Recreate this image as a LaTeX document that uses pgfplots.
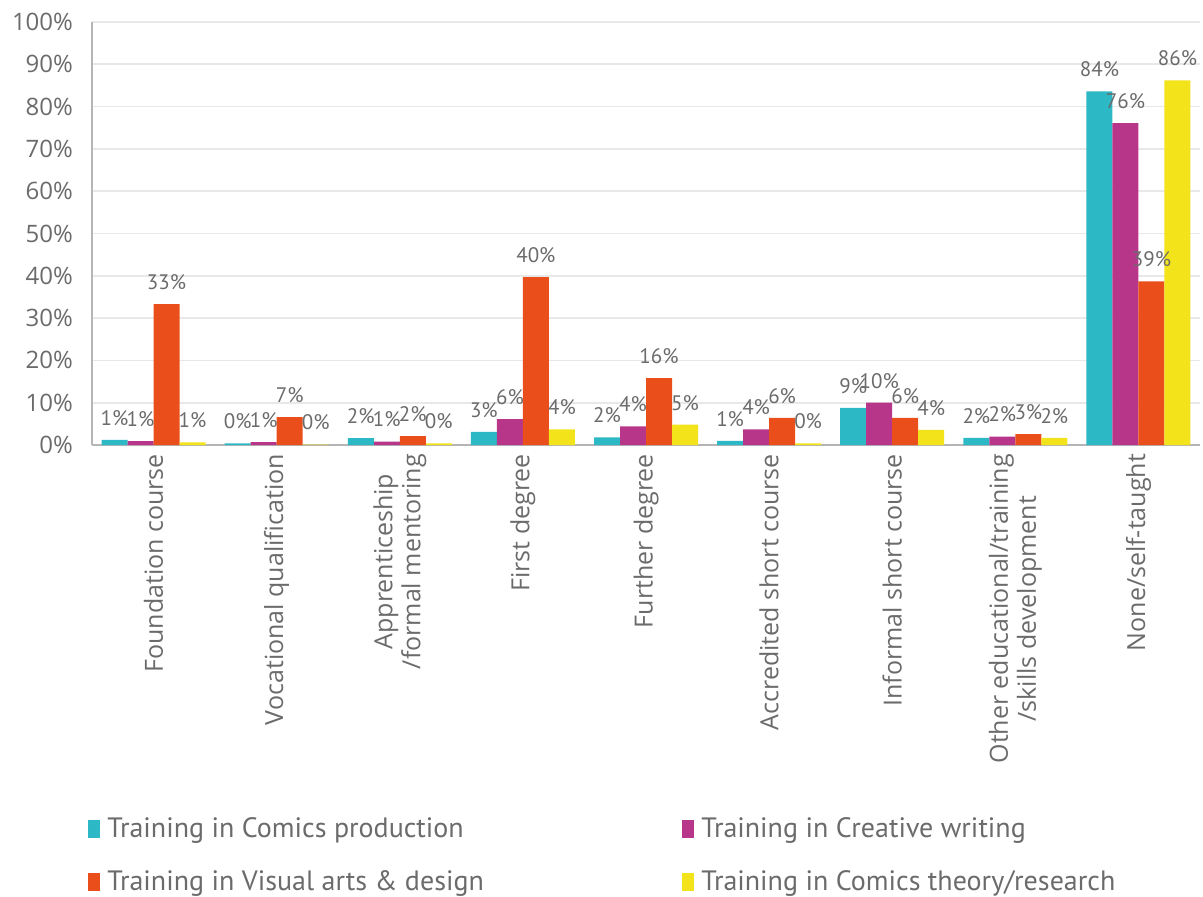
\documentclass[border=0pt]{standalone}
\usepackage{pgfplots}
\pgfplotsset{compat=1.18}
\usepackage{pgfplotstable}
\usepackage{fontspec}
\setmainfont{PT Sans}
\newfontfamily\axisfont{Open Sans}

\definecolor{cComics}{HTML}{2CB8C5}
\definecolor{cWriting}{HTML}{B8368A}
\definecolor{cVisual}{HTML}{E94E1B}
\definecolor{cTheory}{HTML}{F2E31A}
\definecolor{txt}{HTML}{6B6B6B}
\definecolor{gridc}{HTML}{E8E8E8}
\definecolor{axc}{HTML}{B5B5B5}

% values in percent
\pgfplotstableread{
x comics writing visual theory
0 1.2  0.9  33.3 0.6
1 0.4  0.7  6.6  0.1
2 1.6  0.8  2.1  0.4
3 3.1  6.1  39.7 3.7
4 1.8  4.4  15.8 4.8
5 1.0  3.7  6.4  0.4
6 8.8  10.0 6.4  3.6
7 1.7  2.0  2.6  1.7
8 83.6 76.1 38.7 86.2
}\datatable

\begin{document}
\begin{tikzpicture}
\begin{axis}[
    at={(0pt,0pt)}, anchor=south west,
    scale only axis,
    width=554pt, height=211.5pt,
    ybar=0pt, bar width=13pt,
    xmin=-0.5, xmax=8.5,
    ymin=0, ymax=100,
    ytick={0,10,...,100},
    yticklabel={\pgfmathprintnumber{\tick}\%},
    xtick=data,
    xticklabels={Foundation course, Vocational qualification, Apprenticeship\\/formal mentoring, First degree, Further degree, Accredited short course, Informal short course, Other educational/training\\/skills development, None/self-taught},
    /pgf/number format/assume math mode=true,
    major tick length=0pt,
    axis x line*=bottom, axis y line*=left,
    axis line style={axc, line width=0.8pt},
    ymajorgrids, grid style={gridc, line width=0.8pt},
    yticklabel style={font=\axisfont\fontsize{12}{14}\selectfont, text=txt, anchor=east, xshift=-6pt},
    xticklabel style={font=\axisfont\fontsize{12.5}{14}\selectfont, text=txt, rotate=90, anchor=east, align=center, xshift=-1pt},
    nodes near coords={\pgfmathprintnumber[fixed,precision=0]{\pgfplotspointmeta}\%},
    nodes near coords style={font=\fontsize{10.5}{12}\selectfont, text=txt, inner sep=2pt, yshift=5pt},
    legend style={draw=none, fill=none, at={(-0.0036,-0.87)}, anchor=north west,
        legend columns=2, column sep=0pt, row sep=11pt, inner sep=0pt,
        font=\fontsize{14}{16}\selectfont, text=txt,
        nodes={inner xsep=3.5pt}},
    legend cell align=left,
    legend image code/.code={\fill[#1] (0pt,-4.5pt) rectangle (6pt,4.5pt);},
]
\addplot[fill=cComics, draw=none] table[x=x, y=comics] {\datatable};
\addlegendentry{\makebox[284pt][l]{Training in Comics production}}
\addplot[fill=cWriting, draw=none] table[x=x, y=writing] {\datatable};
\addlegendentry{Training in Creative writing}
\addplot[fill=cVisual, draw=none] table[x=x, y=visual] {\datatable};
\addlegendentry{\makebox[284pt][l]{Training in Visual arts \& design}}
\addplot[fill=cTheory, draw=none] table[x=x, y=theory] {\datatable};
\addlegendentry{Training in Comics theory/research}
\end{axis}
\pgfresetboundingbox
\path[use as bounding box] (-46pt,-226pt) rectangle (555.5pt,222.5pt);
\end{tikzpicture}
\end{document}
